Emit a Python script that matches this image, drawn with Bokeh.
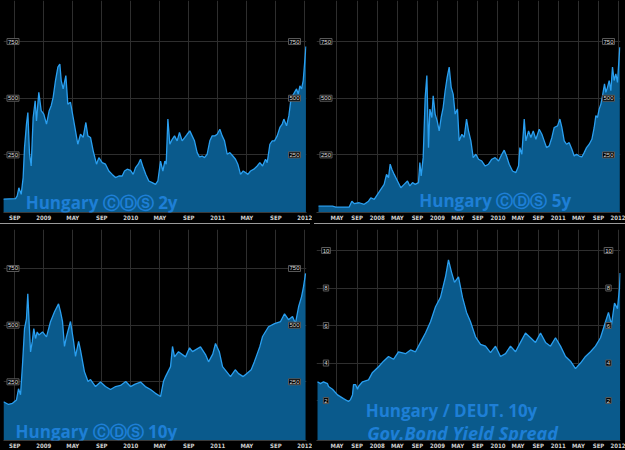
from bokeh.plotting import figure
from bokeh.layouts import column, row
from bokeh.models import FixedTicker, Label, Range1d, Div
from bokeh.embed import file_html
from bokeh.resources import INLINE

# x values: months since Jan 2008 (0 = Jan 2008, 12 = Jan 2009, ...)
cds2_m = [6.4, 8.1, 8.33, 8.56, 8.88, 9.15, 9.34, 9.61, 9.8, 10.03, 10.26, 10.53, 10.81, 10.99, 11.31, 11.64,
          12.0, 12.37, 12.74, 13.02, 13.29, 13.61, 13.94, 14.21, 14.4, 14.67, 15.04, 15.31, 15.68, 16.05, 16.37,
          16.69, 17.06, 17.43, 17.8, 18.07, 18.44, 18.81, 19.27, 19.59, 20.05, 20.51, 20.97, 21.43, 21.89, 22.35,
          22.81, 23.13, 23.5, 23.96, 24.33, 24.65, 25.02, 25.34, 25.71, 26.07, 26.48, 26.95, 27.41, 27.73, 28.1,
          28.42, 28.69, 28.88, 29.11, 29.38, 29.71, 30.03, 30.39, 30.71, 31.08, 31.45, 31.77, 32.14, 32.46, 32.78,
          33.15, 33.47, 33.84, 34.16, 34.53, 34.9, 35.22, 35.59, 35.91, 36.28, 36.6, 36.92, 37.29, 37.66, 38.07,
          38.44, 38.76, 39.13, 39.5, 39.82, 40.14, 40.51, 40.97, 41.43, 41.8, 42.17, 42.58, 42.81, 43.18, 43.5,
          43.82, 44.19, 44.56, 44.88, 45.11, 45.48, 45.8, 46.03, 46.31, 46.58, 46.86, 47.09, 47.32, 47.55, 47.78,
          47.96, 48.15]
cds2_v = [55, 57, 69, 105, 76, 150, 282, 386, 437, 254, 201, 415, 489, 400, 526, 445,
          430, 386, 445, 467, 504, 578, 637, 651, 578, 541, 600, 474, 482, 415, 356,
          297, 341, 327, 393, 334, 327, 268, 209, 238, 216, 209, 179, 164, 150, 157,
          157, 179, 187, 182, 164, 194, 209, 231, 194, 164, 135, 128, 120, 135, 223,
          179, 223, 209, 408, 297, 319, 334, 312, 349, 312, 327, 341, 356, 334, 312,
          260, 241, 245, 238, 253, 312, 334, 334, 341, 363, 334, 312, 253, 260, 245,
          231, 209, 164, 179, 172, 164, 179, 187, 201, 216, 201, 231, 216, 297, 312,
          312, 334, 371, 386, 408, 378, 423, 482, 511, 526, 541, 518, 555, 541, 578,
          651, 728]

cds5_m = [-11.67, -8.89, -8.22, -5.57, -5.04, -4.58, -3.59, -2.59, -1.73, -1.27, -0.6, 0.06, 0.72, 1.38, 1.85,
          2.25, 2.58, 2.91, 3.37, 4.03, 4.7, 5.36, 6.02, 6.49, 7.02, 7.55, 8.21, 8.48, 8.74, 9.14, 9.54, 9.87,
          10.2, 10.47, 10.86, 11.13, 11.52, 11.92, 12.32, 12.72, 13.11, 13.51, 13.91, 14.31, 14.71, 15.1, 15.5,
          15.96, 16.29, 16.83, 17.29, 17.76, 18.15, 18.62, 19.08, 19.61, 20.14, 20.8, 21.47, 22.13, 22.79, 23.45,
          24.12, 24.78, 25.25, 25.71, 26.24, 26.9, 27.57, 28.1, 28.36, 28.76, 29.23, 29.56, 30.09, 30.55, 31.02,
          31.55, 32.21, 32.74, 33.2, 33.67, 34.2, 34.73, 35.19, 35.85, 36.32, 36.71, 37.18, 37.64, 38.17, 38.7,
          39.16, 39.63, 40.16, 40.69, 41.15, 41.62, 42.15, 42.68, 43.14, 43.47, 43.8, 44.13, 44.47, 44.8, 45.19,
          45.46, 45.79, 46.12, 46.45, 46.78, 47.11, 47.44, 47.77, 47.97, 48.23]
cds5_v = [24, 24, 20, 20, 46, 35, 39, 32, 46, 61, 54, 76, 98, 120, 164,
          150, 209, 187, 164, 135, 105, 120, 135, 113, 128, 120, 128, 216, 157, 238, 504, 600,
          282, 452, 415, 511, 430, 400, 356, 415, 459, 533, 592, 637, 548, 518, 430,
          452, 312, 341, 327, 408, 356, 312, 238, 253, 231, 223, 201, 209, 231, 238,
          223, 253, 271, 245, 209, 179, 172, 201, 282, 253, 408, 312, 356, 327, 356,
          319, 363, 341, 312, 282, 290, 327, 371, 378, 408, 371, 312, 297, 304, 275,
          245, 253, 245, 241, 260, 282, 297, 319, 371, 423, 415, 452, 474, 511, 563,
          526, 548, 578, 533, 637, 578, 607, 570, 637, 725]

cds10_m = [6.44, 7.13, 7.68, 8.23, 8.51, 8.79, 9.06, 9.34, 9.61, 9.79, 9.99, 10.17, 10.4, 10.62, 10.86, 11.09,
           11.31, 11.82, 12.37, 12.92, 13.48, 14.03, 14.3, 14.58, 14.85, 15.13, 15.68, 16.1, 16.37, 16.8, 17.06,
           17.6, 18.1, 18.44, 19.13, 19.82, 20.5, 21.2, 21.9, 22.58, 23.3, 23.96, 24.6, 25.34, 26.0, 26.72, 27.4,
           28.1, 28.5, 28.79, 29.48, 29.75, 30.03, 30.58, 31.55, 32.1, 32.51, 33.61, 34.3, 34.72, 35.3, 35.68,
           36.2, 36.65, 37.2, 37.75, 38.4, 38.86, 39.5, 39.96, 40.6, 41.06, 41.8, 42.17, 42.99, 43.82, 44.65,
           45.2, 45.75, 46.3, 46.7, 47.14, 47.55, 47.82, 48.1]
cds10_v = [162, 150, 155, 170, 219, 193, 325, 485, 529, 638, 500, 382, 426, 485, 441, 470,
           457, 470, 448, 515, 559, 594, 560, 515, 406, 450, 516, 430, 362, 428, 390,
           295, 251, 260, 229, 249, 229, 216, 229, 234, 251, 229, 240, 249, 229, 216, 199,
           185, 251, 273, 317, 406, 360, 383, 360, 400, 383, 404, 370, 338, 372, 419,
           383, 317, 295, 273, 303, 286, 273, 286, 303, 340, 406, 450, 493, 507, 516,
           550, 524, 538, 507, 581, 626, 670, 728]

spread_m = [-11.87, -11.27, -10.68, -9.88, -9.68, -8.89, -7.89, -6.7, -5.71, -5.31, -4.91, -4.71, -4.31, -3.92,
            -3.72, -2.92, -1.73, -0.93, 0.26, 1.26, 2.25, 3.24, 4.23, 5.63, 6.62, 7.61, 8.61, 9.6, 10.6, 11.59,
            12.58, 13.58, 14.17, 14.77, 15.37, 16.16, 16.96, 17.76, 18.55, 19.54, 20.54, 21.53, 22.53, 23.52,
            24.51, 25.51, 26.5, 27.5, 28.49, 29.48, 30.48, 31.47, 32.47, 33.46, 34.45, 35.45, 36.44, 37.44,
            38.43, 39.42, 40.42, 41.41, 42.41, 43.4, 44.39, 45.39, 45.98, 46.58, 47.18, 47.77, 48.17, 48.3]
spread_v = [3.0, 2.9, 3.0, 2.9, 2.75, 2.6, 2.3, 2.1, 1.95, 2.05, 2.3, 2.85, 2.85, 2.6,
            2.75, 3.0, 3.1, 3.5, 3.8, 4.1, 4.35, 4.2, 4.6, 4.5, 4.7, 4.6, 5.1, 5.6, 6.2, 7.0,
            7.5, 8.6, 9.5, 8.85, 8.3, 8.6, 7.5, 6.7, 6.2, 5.4, 5.0, 4.9, 4.55, 4.9,
            4.35, 4.5, 4.9, 4.6, 5.1, 5.6, 5.35, 5.1, 5.6, 5.1, 4.9, 5.35, 4.9, 4.35,
            4.1, 3.7, 4.0, 4.35, 4.6, 4.9, 5.35, 6.2, 6.7, 6.05, 7.2, 6.9, 8.0, 8.8]

ticks_short = [8, 12, 16, 20, 24, 28, 32, 36, 40, 44, 48]
labels_short = ["SEP", "2009", "MAY", "SEP", "2010", "MAY", "SEP", "2011", "MAY", "SEP", "2012"]
ticks_long = [-8, -4, 0, 4, 8, 12, 16, 20, 24, 28, 32, 36, 40, 44, 48]
labels_long = ["MAY", "SEP", "2008", "MAY", "SEP", "2009", "MAY", "SEP", "2010", "MAY", "SEP", "2011",
               "MAY", "SEP", "2012"]
cds_yticks = [250, 500, 750]
spread_yticks = [2, 4, 6, 8, 10]

FILL = "#0a5a8c"
LINE = "#2a9ff0"
GRID = "#2e2e2e"
TITLE = "#1e7fd6"


def panel(xm, yv, xr, yr, xticks, xlabels, yticks, frame_w, frame_h, bl, br, bt, titles):
    p = figure(frame_width=frame_w, frame_height=frame_h, x_range=Range1d(*xr), y_range=Range1d(*yr),
               output_backend="svg", toolbar_location=None,
               background_fill_color="black", border_fill_color="black",
               min_border_left=bl, min_border_right=br, min_border_top=bt, min_border_bottom=0)
    p.outline_line_color = None
    p.yaxis.visible = False
    for g in p.ygrid:
        g.ticker = FixedTicker(ticks=yticks)
        g.grid_line_color = GRID
    p.xaxis.ticker = FixedTicker(ticks=xticks)
    p.xaxis.major_label_overrides = {t: l for t, l in zip(xticks, xlabels)}
    p.xaxis.major_label_text_font_size = "6px"
    p.xaxis.major_label_text_color = "#cfcfcf"
    p.xaxis.major_label_text_font = "DejaVu Sans Condensed"
    p.xaxis.major_label_text_font_style = "bold"
    p.xaxis.major_label_standoff = 1
    p.xaxis.major_tick_out = 0
    p.xaxis.major_tick_in = 0
    p.xaxis.minor_tick_out = 0
    p.xaxis.minor_tick_in = 0
    p.xaxis.major_tick_line_color = None
    p.xaxis.minor_tick_line_color = None
    p.xaxis.axis_line_color = "#3a3a3a"
    p.xgrid.grid_line_color = GRID

    p.varea(x=xm, y1=[yr[0]] * len(xm), y2=yv, fill_color=FILL, fill_alpha=1.0)
    p.line(x=xm, y=yv, line_color=LINE, line_width=1.3)

    ppx = (xr[1] - xr[0]) / frame_w
    for t in yticks:
        txt = str(t)
        for xx in (xr[0] + 9.5 * ppx, xr[1] - 12 * ppx):
            p.add_layout(Label(x=xx, y=t, text=txt, text_font_size="6px", text_color="#dddddd",
                               text_align="center", text_baseline="middle",
                               background_fill_color="black", border_line_color="#5a5a5a",
                               padding=1))
    for (tx, ty, txt, style, size) in titles:
        p.add_layout(Label(x=tx, y=ty, text=txt, text_font="Open Sans", text_font_style=style,
                           text_font_size=size, text_color=TITLE, text_baseline="alphabetic"))
    return p


def bar(w, color):
    return Div(text="", width=w, height=1, margin=0, styles={"background-color": color})


tl = panel(cds2_m, cds2_v, (6.44, 48.23), (-4, 931), ticks_short, labels_short, cds_yticks,
           303, 212, 3, 6, 0, [(9.5, 41, "Hungary \u24b8\u24b9\u24c8 2y", "bold", "17px")])
tr = panel(cds5_m, cds5_v, (-12.07, 48.37), (-4, 931), ticks_long, labels_long, cds_yticks,
           304, 212, 4, 5, 0, [(8.35, 48, "Hungary \u24b8\u24b9\u24c8 5y", "bold", "17px")])
bl = panel(cds10_m, cds10_v, (6.44, 48.23), (-9, 922), ticks_short, labels_short, cds_yticks,
           303, 211, 3, 6, 5, [(8.1, 31, "Hungary \u24b8\u24b9\u24c8 10y", "bold", "17px")])
br = panel(spread_m, spread_v, (-12.07, 48.37), (-0.13, 11.12), ticks_long, labels_long, spread_yticks,
           304, 211, 4, 5, 5, [(-2.3, 1.47, "Hungary / DEUT. 10y", "bold", "17px"),
                               (-2.0, 0.29, "Gov.Bond Yield Spread", "bold italic", "18px")])

layout = column(row(tl, tr), row(bar(310, "#9a9a9a"), bar(4, "black"), bar(311, "#9a9a9a")),
                row(bl, br), row(bar(310, "#9a9a9a"), bar(4, "black"), bar(311, "#9a9a9a")),
                background="black")
html = file_html(layout, INLINE).replace("<body>", '<body style="margin:0;background:black">')
open("out.html", "w").write(html)
